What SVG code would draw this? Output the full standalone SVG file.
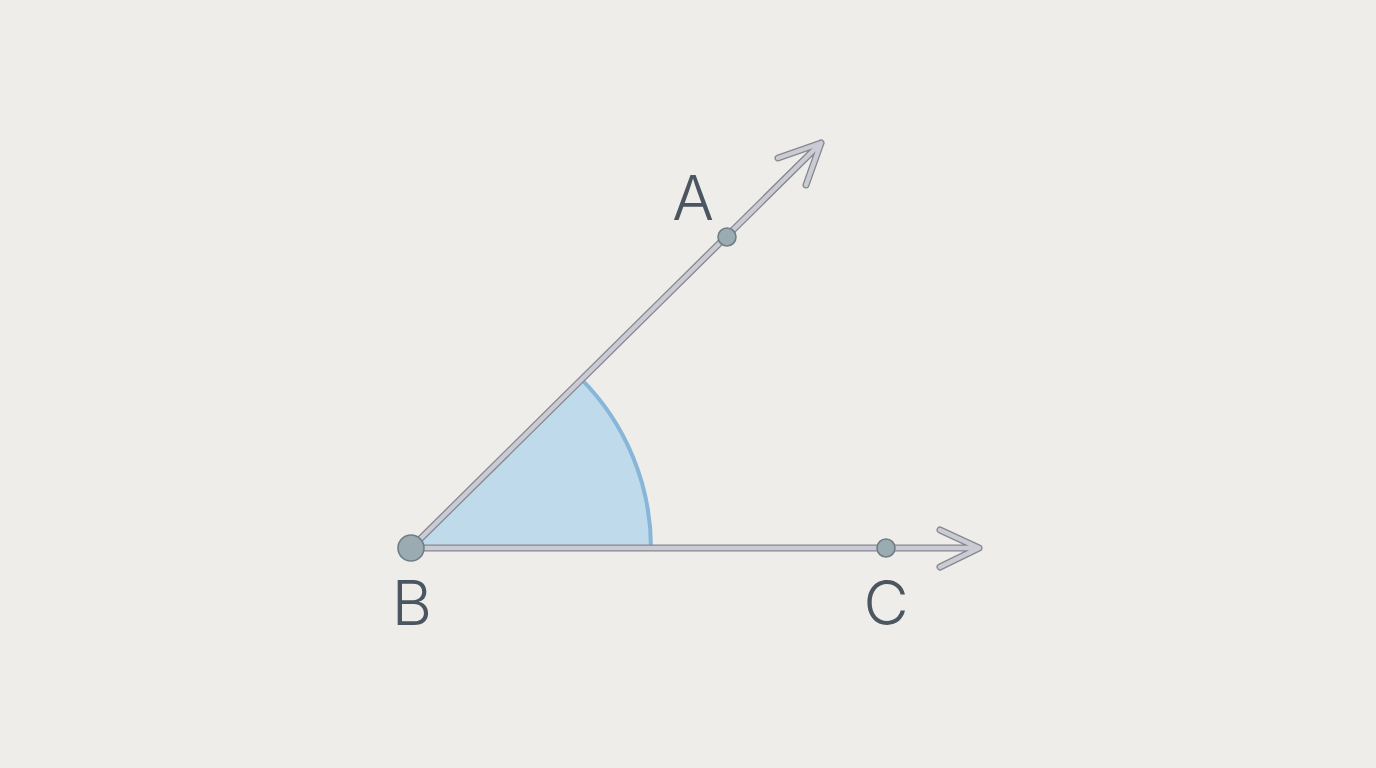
<svg xmlns="http://www.w3.org/2000/svg" xmlns:xlink="http://www.w3.org/1999/xlink" width="1376" height="768" viewBox="0 0 1376 768">
<style>
.outer{fill:none;stroke:#858893;stroke-width:7;stroke-linecap:round;stroke-linejoin:round}
.inner{fill:none;stroke:#cbccd3;stroke-width:4.4;stroke-linecap:round;stroke-linejoin:round}
.dot{fill:#9aacb2;stroke:#6f7d85;stroke-width:1.6}
.lbl{font-family:Inter,"Liberation Sans",sans-serif;font-size:62px;font-weight:300;fill:#4b5660;text-anchor:middle}
</style>
<defs>
<path id="rayA" d="M411 548 L821 143 M778 158 L821 143 L806 185"/>
<path id="rayC" d="M411 548 L979 548 M940 530 L979 548 L940 567"/>
</defs>
<rect width="1376" height="768" fill="#eeede9"/>
<g id="angle">
<path d="M411 548 L581.3 379.1 A240 240 0 0 1 651 548 Z" fill="#bfdaeb"/>
<path d="M581.3 379.1 A240 240 0 0 1 651 548" fill="none" stroke="#88b6d8" stroke-width="4"/>
</g>
<g id="connectors">
<use xlink:href="#rayA" class="outer"/>
<use xlink:href="#rayC" class="outer"/>
<use xlink:href="#rayA" class="inner"/>
<use xlink:href="#rayC" class="inner"/>
</g>
<g id="node-A">
<circle class="dot" cx="727" cy="237" r="9"/>
<text class="lbl" x="693" y="220">A</text>
</g>
<g id="node-B">
<circle class="dot" cx="411" cy="548" r="13"/>
<text class="lbl" x="412" y="625">B</text>
</g>
<g id="node-C">
<circle class="dot" cx="886" cy="548" r="9"/>
<text class="lbl" x="886" y="625">C</text>
</g>
</svg>
